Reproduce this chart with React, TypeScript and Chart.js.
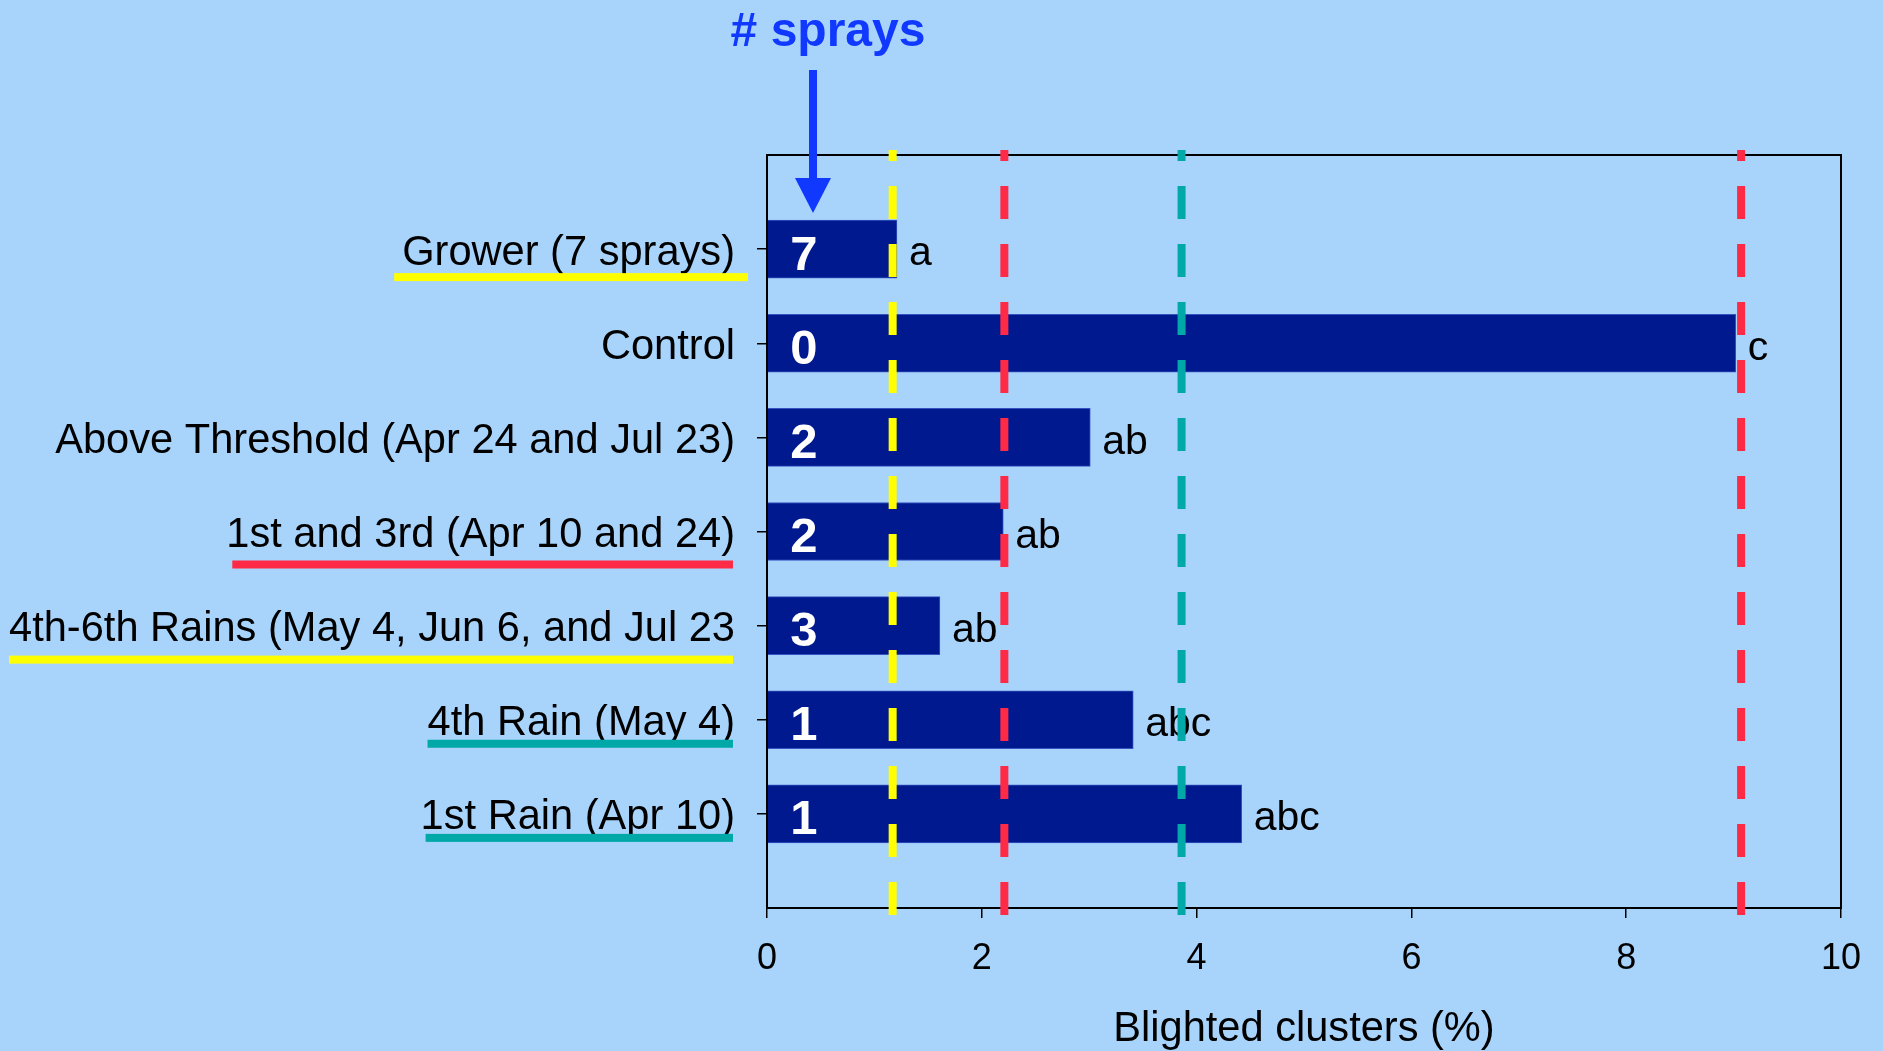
import React, { useEffect, useRef } from "react";
import { Chart, registerables } from "chart.js";

Chart.register(...registerables);

const categories = [
  "Grower (7 sprays)",
  "Control",
  "Above Threshold (Apr 24 and Jul 23)",
  "1st and 3rd (Apr 10 and 24)",
  "4th-6th Rains (May 4, Jun 6, and Jul 23",
  "4th Rain (May 4)",
  "1st Rain (Apr 10)",
];
const blightedClusters = [1.21, 9.02, 3.01, 2.2, 1.61, 3.41, 4.42];
const sprayCounts = ["7", "0", "2", "2", "3", "1", "1"];
const significance = ["a", "c", "ab", "ab", "ab", "abc", "abc"];
const referenceValues = [1.17, 2.21, 3.86, 9.07];
const referenceColors = ["#ffff00", "#ff2a45", "#00a8a8", "#ff2a45"];
const underlineColors = ["#ffff00", null, null, "#ff2a45", "#ffff00", "#00a8a8", "#00a8a8"];
const underlineDy = [28, 0, 0, 33, 34, 24, 24];
const underlineExtendLeft = [8, 0, 0, -6, 0, 0, -5];
const underlineExtendRight = [13, 0, 0, -2, -2, -2, -2];
const xMin = 0;
const xMax = 10;
const xStep = 2;

const FONT = '"Liberation Sans", Arial, sans-serif';
const BG = "#a8d4fc";
const BAR = "#00198f";
const LABEL_SIZE = 41.6;

const annotations = {
  id: "annotations",
  afterDatasetsDraw(chart: any) {
    const { ctx, scales } = chart;
    const x = scales.x;
    const y = scales.y;
    ctx.save();
    blightedClusters.forEach((v, i) => {
      const yc = y.getPixelForValue(i + 1);
      ctx.fillStyle = "#ffffff";
      ctx.font = `bold 49px ${FONT}`;
      ctx.textAlign = "center";
      ctx.textBaseline = "middle";
      ctx.fillText(sprayCounts[i], x.getPixelForValue(0) + 37, yc + 7);
      ctx.fillStyle = "#000000";
      ctx.font = `41px ${FONT}`;
      ctx.textAlign = "left";
      ctx.fillText(significance[i], x.getPixelForValue(v) + 12, yc + 5);
    });
    ctx.restore();
  },
  afterDraw(chart: any) {
    const { ctx, chartArea, scales } = chart;
    const x = scales.x;
    const y = scales.y;
    ctx.save();
    // underlines beneath selected category labels
    ctx.font = `${LABEL_SIZE}px ${FONT}`;
    const labelRight = y.right - 10 - 22;
    categories.forEach((c, i) => {
      const col = underlineColors[i];
      if (!col) return;
      const w = ctx.measureText(c).width;
      const yc = y.getPixelForValue(i + 1);
      const x0 = labelRight - w - underlineExtendLeft[i];
      const x1 = labelRight + underlineExtendRight[i];
      ctx.fillStyle = col;
      ctx.fillRect(x0, yc + underlineDy[i] - 4, x1 - x0, 8);
    });
    // plot frame
    ctx.strokeStyle = "#000";
    ctx.lineWidth = 2;
    ctx.strokeRect(chartArea.left, chartArea.top, chartArea.right - chartArea.left, chartArea.bottom - chartArea.top);
    // dashed reference lines
    ctx.lineWidth = 8;
    ctx.setLineDash([33, 25]);
    ctx.lineDashOffset = 22;
    referenceValues.forEach((v, i) => {
      const px = x.getPixelForValue(v);
      ctx.strokeStyle = referenceColors[i];
      ctx.beginPath();
      ctx.moveTo(px, chartArea.top - 5);
      ctx.lineTo(px, chartArea.bottom + 10);
      ctx.stroke();
    });
    ctx.setLineDash([]);
    // "# sprays" title and arrow
    const ax = chartArea.left + 46;
    ctx.fillStyle = "#1038ff";
    ctx.font = `bold 48px ${FONT}`;
    ctx.textAlign = "center";
    ctx.textBaseline = "alphabetic";
    ctx.fillText("# sprays", chartArea.left + 61, 46);
    ctx.fillRect(ax - 4, 70, 8, 110);
    ctx.beginPath();
    ctx.moveTo(ax - 18, 178);
    ctx.lineTo(ax + 18, 178);
    ctx.lineTo(ax, 213);
    ctx.closePath();
    ctx.fill();
    ctx.restore();
  },
};

export default function App() {
  const canvasRef = useRef<HTMLCanvasElement | null>(null);

  useEffect(() => {
    document.body.style.margin = "0";
    const canvas = canvasRef.current;
    if (!canvas) return;
    const labels = ["", ...categories, ""];
    const data = [null, ...blightedClusters, null];
    const chart = new Chart(canvas, {
      type: "bar",
      data: {
        labels,
        datasets: [
          {
            data: data as any,
            backgroundColor: BAR,
            borderColor: "#3553c0",
            borderWidth: 1,
            barThickness: 58,
          },
        ],
      },
      options: {
        indexAxis: "y",
        animation: false,
        responsive: true,
        maintainAspectRatio: false,
        layout: { padding: { top: 155, right: 42, bottom: 0, left: 0 } },
        plugins: {
          legend: { display: false },
          tooltip: { enabled: false },
        },
        scales: {
          x: {
            type: "linear",
            min: xMin,
            max: xMax,
            ticks: {
              stepSize: xStep,
              color: "#000",
              font: { family: FONT, size: 36 },
              padding: 19,
            },
            grid: {
              drawOnChartArea: false,
              drawTicks: true,
              tickLength: 10,
              color: "#000",
              lineWidth: 1.5,
            },
            border: { display: false },
            title: {
              display: true,
              text: "Blighted clusters (%)",
              color: "#000",
              font: { family: FONT, size: 41.6 },
              padding: { top: 0, bottom: -3 },
            },
            afterFit: (scale: any) => {
              scale.height = 143;
            },
          },
          y: {
            type: "category",
            offset: false,
            ticks: {
              color: "#000",
              font: { family: FONT, size: LABEL_SIZE },
              padding: 22,
              labelOffset: 4,
              autoSkip: false,
            },
            grid: {
              offset: false,
              drawOnChartArea: false,
              drawTicks: true,
              tickLength: 10,
              lineWidth: 1.5,
              color: "#000",
              tickColor: (ctx: any) => (ctx.tick && ctx.tick.label ? "#000" : "rgba(0,0,0,0)"),
            },
            border: { display: false },
            afterFit: (scale: any) => {
              scale.width = 767;
            },
          },
        },
      },
      plugins: [annotations],
    });
    return () => chart.destroy();
  }, []);

  return (
    <div style={{ width: 1883, height: 1051, background: BG, position: "relative" }}>
      <canvas ref={canvasRef} />
    </div>
  );
}
